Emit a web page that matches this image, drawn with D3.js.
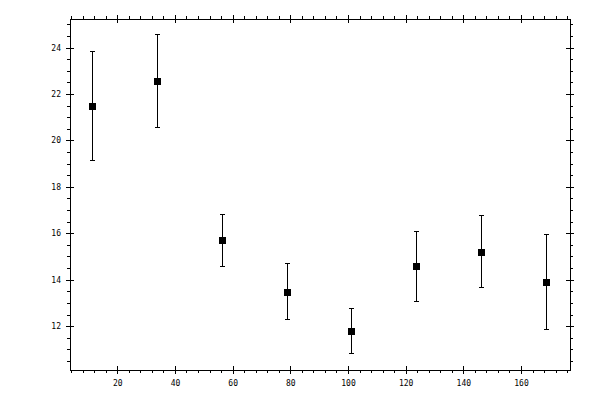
<!DOCTYPE html>
<html>
<head>
<meta charset="utf-8">
<script src="https://cdn.jsdelivr.net/npm/d3@7"></script>
<style>
  body { margin: 0; background: #fff; }
  text { font-family: "DejaVu Sans Mono", monospace; font-size: 8px; fill: #000; }
</style>
</head>
<body>
<div id="chart"></div>
<script>
const xVals = [11.3, 33.9, 56.4, 79.0, 101.2, 123.7, 146.2, 168.8];
const yVals = [21.45, 22.53, 15.67, 13.47, 11.78, 14.59, 15.19, 13.90];
const yHigh = [23.82, 24.56, 16.82, 14.68, 12.78, 16.06, 16.76, 15.93];
const yLow  = [19.13, 20.55, 14.55, 12.30, 10.83, 13.08, 13.68, 11.87];
const xTicks = [20, 40, 60, 80, 100, 120, 140, 160];
const yTicks = [12, 14, 16, 18, 20, 22, 24];

const width = 600, height = 400;
const margin = { top: 19, right: 30, bottom: 30, left: 70 };

const svg = d3.select("#chart")
  .append("svg")
  .attr("width", width)
  .attr("height", height)
  .attr("shape-rendering", "crispEdges");

const x = d3.scaleLinear()
  .domain([3.6, 177.0])
  .range([margin.left, width - margin.right]);

const y = d3.scaleLinear()
  .domain([10.11, 25.23])
  .range([height - margin.bottom, margin.top]);

const xMinor = d3.range(4, 177, 4).filter(v => v % 20 !== 0);
const yMinor = d3.range(10.5, 25.3, 0.5).filter(v => v % 2 !== 0);

const plotBottom = height - margin.bottom, plotTop = margin.top;
const plotLeft = margin.left, plotRight = width - margin.right;

// ticks on all four sides: minor outward, major crossing the frame
function addAxis(axisFn, scale, transform, major, minor, pad, labels) {
  const g = svg.append("g").attr("transform", transform);
  g.append("g").call(axisFn(scale).tickValues(minor).tickSize(3).tickFormat(""));
  g.append("g").call(axisFn(scale).tickValues(major).tickSize(4).tickPadding(pad)
    .tickFormat(labels ? d3.format("d") : ""));
  g.append("g").call(axisFn(scale).tickValues(major).tickSize(-4).tickFormat(""));
  g.selectAll(".domain").remove();
  g.selectAll("line").attr("stroke", "#000");
  return g;
}

addAxis(d3.axisBottom, x, `translate(0,${plotBottom})`, xTicks, xMinor, 6, true);
addAxis(d3.axisTop, x, `translate(0,${plotTop})`, xTicks, xMinor, 3, false);
addAxis(d3.axisLeft, y, `translate(${plotLeft},0)`, yTicks, yMinor, 5, true);
addAxis(d3.axisRight, y, `translate(${plotRight},0)`, yTicks, yMinor, 3, false);

svg.selectAll(".tick text")
  .attr("font-family", "'DejaVu Sans Mono', monospace")
  .attr("font-size", 8)
  .attr("fill", "#000");

svg.append("rect")
  .attr("x", plotLeft)
  .attr("y", plotTop)
  .attr("width", plotRight - plotLeft)
  .attr("height", plotBottom - plotTop)
  .attr("fill", "none")
  .attr("stroke", "#000");

const data = xVals.map((v, i) => ({ x: v, y: yVals[i], hi: yHigh[i], lo: yLow[i] }));

const pts = svg.append("g").selectAll("g")
  .data(data)
  .enter()
  .append("g");

pts.append("line")
  .attr("x1", d => x(d.x))
  .attr("x2", d => x(d.x))
  .attr("y1", d => y(d.lo))
  .attr("y2", d => y(d.hi))
  .attr("stroke", "#000");

["lo", "hi"].forEach(k => {
  pts.append("line")
    .attr("x1", d => x(d.x) - 2.5)
    .attr("x2", d => x(d.x) + 2.5)
    .attr("y1", d => y(d[k]))
    .attr("y2", d => y(d[k]))
    .attr("stroke", "#000");
});

pts.append("rect")
  .attr("x", d => x(d.x) - 3.5)
  .attr("y", d => y(d.y) - 3.5)
  .attr("width", 7)
  .attr("height", 7)
  .attr("fill", "#000");
</script>
</body>
</html>
